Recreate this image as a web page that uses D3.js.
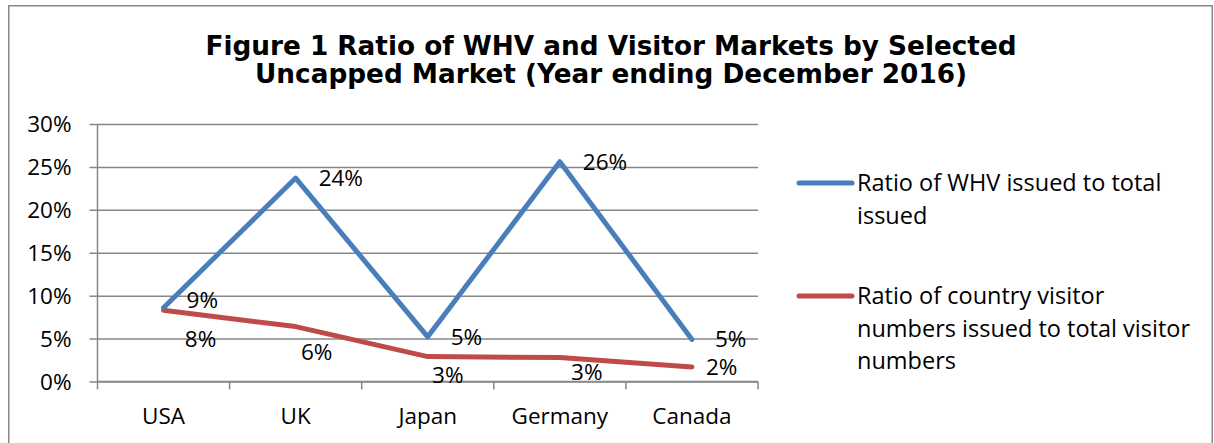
<!DOCTYPE html>
<html>
<head>
<meta charset="utf-8">
<script src="https://cdn.jsdelivr.net/npm/d3@7"></script>
<style>
  body { margin: 0; background: #fff; }
  svg { display: block; }
</style>
</head>
<body>
<svg width="1214" height="443"></svg>
<script>
// chart values
const categories = ["USA", "UK", "Japan", "Germany", "Canada"];
const whvRatio = [8.6, 23.7, 5.2, 25.6, 4.9];
const visitorRatio = [8.3, 6.4, 2.9, 2.8, 1.7];
const whvLabels = ["9%", "24%", "5%", "26%", "5%"];
const visitorLabels = ["8%", "6%", "3%", "3%", "2%"];
const yTicks = [0, 5, 10, 15, 20, 25, 30];
const titleLines = [
    "Figure 1 Ratio of WHV and Visitor Markets by Selected",
    "Uncapped Market (Year ending December 2016)"
];
const legendItems = [
    {lines: ["Ratio of WHV issued to total", "issued"], color: "#4a7ebb"},
    {lines: ["Ratio of country visitor", "numbers issued to total visitor", "numbers"], color: "#be4b48"}
];

const svg = d3.select("svg");
const font = "'Open Sans', 'Noto Sans', sans-serif";
const gridColor = "#878787";
const textSize = 22.5;

// outer frame (no bottom edge visible)
svg.append("path")
    .attr("d", "M8.75,443 V5.75 H1212.25 V443")
    .attr("fill", "none")
    .attr("stroke", "#888")
    .attr("stroke-width", 1.5);

// title
svg.append("g").selectAll("text")
    .data(titleLines)
    .join("text")
    .attr("x", 611)
    .attr("y", (d, i) => 55 + i * 28)
    .attr("text-anchor", "middle")
    .attr("font-family", "'DejaVu Sans', Verdana, sans-serif")
    .attr("font-weight", "bold")
    .attr("font-size", 26.3)
    .attr("fill", "#000")
    .text(d => d);

const plot = {left: 97.5, right: 758, top: 124, bottom: 381.5};

const x = d3.scaleBand()
    .domain(categories)
    .range([plot.left, plot.right]);

const y = d3.scaleLinear()
    .domain([0, 30])
    .range([plot.bottom, plot.top]);

// gridlines + y axis
const yAxis = svg.append("g")
    .attr("transform", `translate(${plot.left},0)`)
    .call(d3.axisLeft(y)
        .tickValues(yTicks)
        .tickSize(-(plot.right - plot.left))
        .tickFormat(d => d + "%"));
yAxis.select(".domain").remove();
yAxis.selectAll(".tick line")
    .attr("x1", -8)
    .attr("stroke", gridColor)
    .attr("stroke-width", 1.5);
yAxis.selectAll(".tick text")
    .attr("x", -26)
    .attr("dy", "0.35em")
    .attr("font-family", font)
    .attr("font-size", textSize)
    .attr("fill", "#000");

// y axis line
svg.append("line")
    .attr("x1", plot.left).attr("x2", plot.left)
    .attr("y1", plot.top).attr("y2", plot.bottom)
    .attr("stroke", gridColor)
    .attr("stroke-width", 1.5);

// x axis with ticks at band edges
const xAxis = svg.append("g")
    .attr("transform", `translate(0,${plot.bottom})`);
xAxis.append("line")
    .attr("x1", plot.left).attr("x2", plot.right)
    .attr("stroke", gridColor)
    .attr("stroke-width", 1.5);
const edges = categories.map(c => x(c)).concat([plot.right]);
xAxis.selectAll(".edge")
    .data(edges)
    .join("line")
    .attr("class", "edge")
    .attr("x1", d => d).attr("x2", d => d)
    .attr("y1", 0).attr("y2", 8)
    .attr("stroke", gridColor)
    .attr("stroke-width", 1.5);
xAxis.selectAll("text")
    .data(categories)
    .join("text")
    .attr("x", d => x(d) + x.bandwidth() / 2)
    .attr("y", 42)
    .attr("text-anchor", "middle")
    .attr("font-family", font)
    .attr("font-size", textSize)
    .attr("fill", "#000")
    .text(d => d);

const cx = d => x(d) + x.bandwidth() / 2;

const line = d3.line()
    .x((d, i) => cx(categories[i]))
    .y(d => y(d));

[[visitorRatio, legendItems[1].color], [whvRatio, legendItems[0].color]].forEach(([vals, color]) => {
    svg.append("path")
        .attr("d", line(vals))
        .attr("fill", "none")
        .attr("stroke", color)
        .attr("stroke-width", 5)
        .attr("stroke-linejoin", "round")
        .attr("stroke-linecap", "round");
});

// data labels
const labelStyle = (sel, size) => sel
    .attr("font-family", font)
    .attr("font-size", size || textSize)
    .attr("fill", "#000");

svg.append("g").selectAll("text")
    .data(whvRatio)
    .join("text")
    .attr("x", (d, i) => cx(categories[i]) + 23)
    .attr("y", (d, i) => y(d) + (i === 0 ? -8 : 0))
    .attr("dy", "0.35em")
    .call(labelStyle)
    .text((d, i) => whvLabels[i]);

svg.append("g").selectAll("text")
    .data(visitorRatio)
    .join("text")
    .attr("x", (d, i) => i === 4 ? cx(categories[i]) + 14 : cx(categories[i]) + [37, 21, 20, 27][i])
    .attr("y", (d, i) => i === 4 ? y(d) : y(d) + [29, 26, 19, 15][i])
    .attr("dy", "0.35em")
    .attr("text-anchor", (d, i) => i === 4 ? "start" : "middle")
    .call(labelStyle)
    .text((d, i) => visitorLabels[i]);

// legend
const legend = svg.append("g");
const legendY = [183, 296];
legendItems.forEach((item, k) => {
    const g = legend.append("g").attr("transform", `translate(0,${legendY[k]})`);
    g.append("line")
        .attr("x1", 799).attr("x2", 852)
        .attr("stroke", item.color)
        .attr("stroke-width", 5)
        .attr("stroke-linecap", "round");
    g.selectAll("text")
        .data(item.lines)
        .join("text")
        .attr("x", 857)
        .attr("y", (d, i) => 8 + i * 32.5)
        .call(labelStyle, 23.5)
        .text(d => d);
});
</script>
</body>
</html>
